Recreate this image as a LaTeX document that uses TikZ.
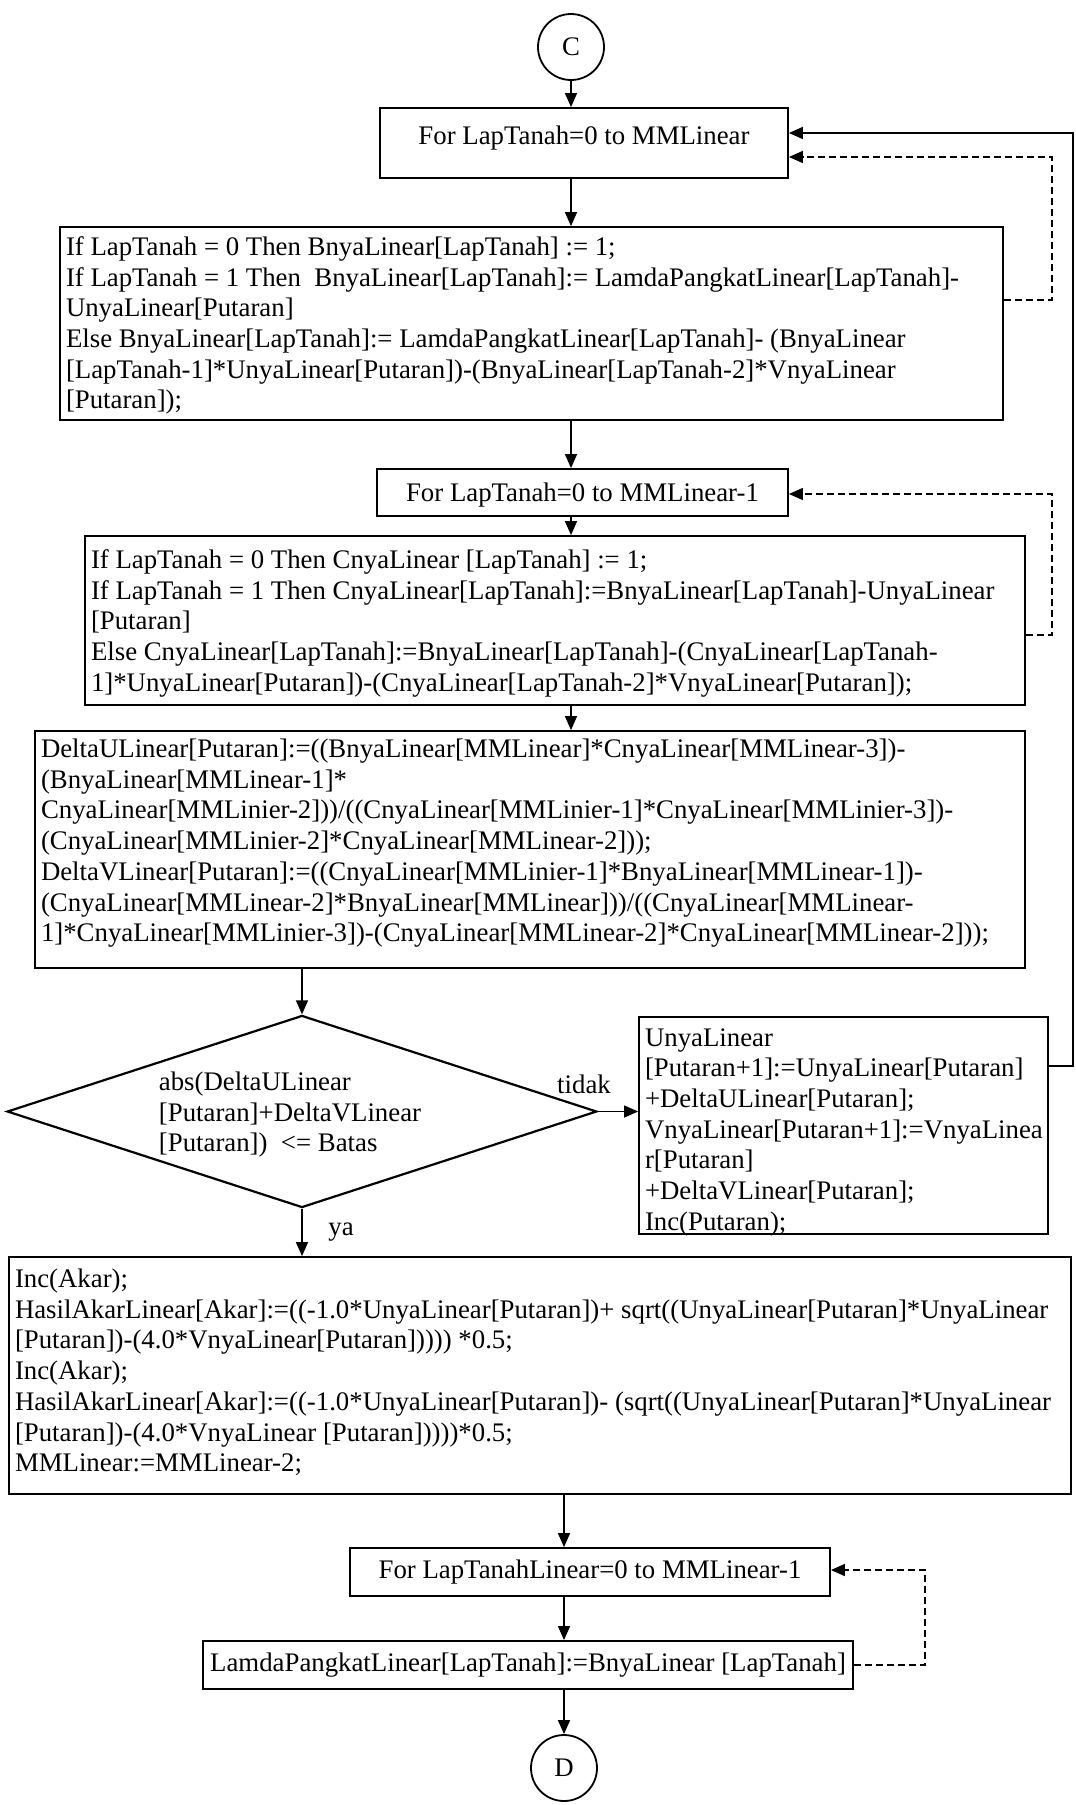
\documentclass[tikz,border=0pt]{standalone}
\usepackage{fontspec}
\setmainfont{Liberation Serif}
\usetikzlibrary{shapes.geometric,arrows.meta}
\newcommand\codefont{\fontsize{13.4}{15.35}\selectfont}
\newcommand\codebox[4]{\parbox[c][#2][t]{#1}{\vspace*{#3}\noindent\hspace*{3pt}\begin{tabular}[t]{@{}l@{}}#4\end{tabular}}}
\begin{document}
\begin{tikzpicture}[x=0.5pt,y=-0.5pt,line join=miter,
  >={Triangle[length=7pt,width=6pt]},
  flow/.style={draw,line width=0.9pt,inner sep=0pt,font=\codefont},
  forbox/.style={flow,align=center},
  conn/.style={line width=0.7pt,->},
  loopd/.style={conn,dash pattern=on 3.5pt off 2pt},
  term/.style={draw,circle,line width=0.9pt,minimum size=33pt,inner sep=0pt,font=\codefont},
  decision/.style={draw,diamond,aspect=3.07,line width=1.1pt,inner sep=0pt,minimum width=293pt,minimum height=95.5pt,font=\codefont},
  lbl/.style={font=\codefont,inner sep=0pt}]
\fill[white] (0,0) rectangle (1076,1805);
\useasboundingbox (0,0) rectangle (1076,1805);

\node[term] (c) at (571,47) {C};
\node[forbox,minimum width=204pt,minimum height=35pt,text height=9pt,text depth=7.2pt] (f1) at (584,143) {For LapTanah=0 to MMLinear};
\node[flow] (b1) at (531.5,323.5) {\codebox{471.5pt}{96.5pt}{3.5pt}{If LapTanah = 0 Then BnyaLinear[LapTanah] := 1;\\ If LapTanah = 1 Then~ BnyaLinear[LapTanah]:= LamdaPangkatLinear[LapTanah]-\\ UnyaLinear[Putaran]\\ Else BnyaLinear[LapTanah]:= LamdaPangkatLinear[LapTanah]- (BnyaLinear\\\relax [LapTanah-1]*UnyaLinear[Putaran])-(BnyaLinear[LapTanah-2]*VnyaLinear\\\relax [Putaran]);}};
\node[forbox,minimum width=205.5pt,minimum height=23.5pt,text height=9.5pt,text depth=0.9pt] (f2) at (582.5,492.5) {For LapTanah=0 to MMLinear-1};
\node[flow] (b3) at (555,620.5) {\codebox{470pt}{84.5pt}{5.5pt}{If LapTanah = 0 Then CnyaLinear [LapTanah] := 1;\\ If LapTanah = 1 Then CnyaLinear[LapTanah]:=BnyaLinear[LapTanah]-UnyaLinear\\\relax [Putaran]\\ Else CnyaLinear[LapTanah]:=BnyaLinear[LapTanah]-(CnyaLinear[LapTanah-\\ 1]*UnyaLinear[Putaran])-(CnyaLinear[LapTanah-2]*VnyaLinear[Putaran]);}};
\node[flow] (b4) at (530,849.5) {\codebox{495pt}{118.5pt}{2.5pt}{DeltaULinear[Putaran]:=((BnyaLinear[MMLinear]*CnyaLinear[MMLinear-3])-\\ (BnyaLinear[MMLinear-1]*\\ CnyaLinear[MMLinier-2]))/((CnyaLinear[MMLinier-1]*CnyaLinear[MMLinier-3])-\\ (CnyaLinear[MMLinier-2]*CnyaLinear[MMLinear-2]));\\ DeltaVLinear[Putaran]:=((CnyaLinear[MMLinier-1]*BnyaLinear[MMLinear-1])-\\ (CnyaLinear[MMLinear-2]*BnyaLinear[MMLinear]))/((CnyaLinear[MMLinear-\\ 1]*CnyaLinear[MMLinier-3])-(CnyaLinear[MMLinear-2]*CnyaLinear[MMLinear-2]));}};
\node[decision] (dm) at (302,1111.5) {\begin{tabular}{@{}l@{\hspace{12pt}}}\noalign{\vskip3.4pt}abs(DeltaULinear\\\relax [Putaran]+DeltaVLinear\\\relax [Putaran])~ <= Batas\end{tabular}};
\node[flow] (b5) at (843.5,1125.5) {\codebox{204.5pt}{108.5pt}{3.75pt}{UnyaLinear\\\relax [Putaran+1]:=UnyaLinear[Putaran]\\ +DeltaULinear[Putaran];\\ VnyaLinear[Putaran+1]:=VnyaLinea\\ r[Putaran]\\ +DeltaVLinear[Putaran];\\ Inc(Putaran);}};
\node[flow] (b6) at (540,1375.5) {\codebox{531pt}{118.5pt}{4.5pt}{Inc(Akar);\\ HasilAkarLinear[Akar]:=((-1.0*UnyaLinear[Putaran])+ sqrt((UnyaLinear[Putaran]*UnyaLinear\\\relax [Putaran])-(4.0*VnyaLinear[Putaran])))) *0.5;\\ Inc(Akar);\\ HasilAkarLinear[Akar]:=((-1.0*UnyaLinear[Putaran])- (sqrt((UnyaLinear[Putaran]*UnyaLinear\\\relax [Putaran])-(4.0*VnyaLinear [Putaran]))))*0.5;\\ MMLinear:=MMLinear-2;}};
\node[forbox,minimum width=240pt,minimum height=24pt] (f3) at (590,1572) {For LapTanahLinear=0 to MMLinear-1};
\node[forbox,minimum width=325pt,minimum height=24pt] (b7) at (528,1665) {LamdaPangkatLinear[LapTanah]:=BnyaLinear [LapTanah]};
\node[term] (d) at (564,1768) {D};

\node[lbl] (tidak) at (584,1084) {tidak};
\node[lbl] (ya) at (341,1232) {ya};

\coordinate (sp1) at (571,0);
\coordinate (sp2) at (564,0);
\draw[conn] (c) -- (c |- f1.north);
\draw[conn] (sp1 |- f1.south) -- (sp1 |- b1.north);
\draw[conn] (sp1 |- b1.south) -- (sp1 |- f2.north);
\draw[conn] (sp1 |- f2.south) -- (sp1 |- b3.north);
\draw[conn] (sp1 |- b3.south) -- (sp1 |- b4.north);
\draw[conn] (dm.north |- b4.south) -- (dm.north);
\draw[conn] (dm.east) -- (dm.east -| b5.west);
\draw[conn] (dm.south) -- (dm.south |- b6.north);
\draw[conn] (sp2 |- b6.south) -- (sp2 |- f3.north);
\draw[conn] (sp2 |- f3.south) -- (sp2 |- b7.north);
\draw[conn] (sp2 |- b7.south) -- (d);

\coordinate (sR) at (1073,1066);
\coordinate (sT) at (1073,133);
\draw[conn] (sR -| b5.east) -- (sR) -- (sT) -- (sT -| f1.east);

\coordinate (d1B) at (1052,300);
\coordinate (d1T) at (1052,157);
\draw[loopd] (d1B -| b1.east) -- (d1B) -- (d1T) -- (d1T -| f1.east);

\coordinate (d2B) at (1052,635);
\coordinate (d2T) at (1052,494);
\draw[loopd] (d2B -| b3.east) -- (d2B) -- (d2T) -- (d2T -| f2.east);

\coordinate (d3B) at (925,1665);
\coordinate (d3T) at (925,1570);
\draw[loopd] (d3B -| b7.east) -- (d3B) -- (d3T) -- (d3T -| f3.east);
\end{tikzpicture}
\end{document}
